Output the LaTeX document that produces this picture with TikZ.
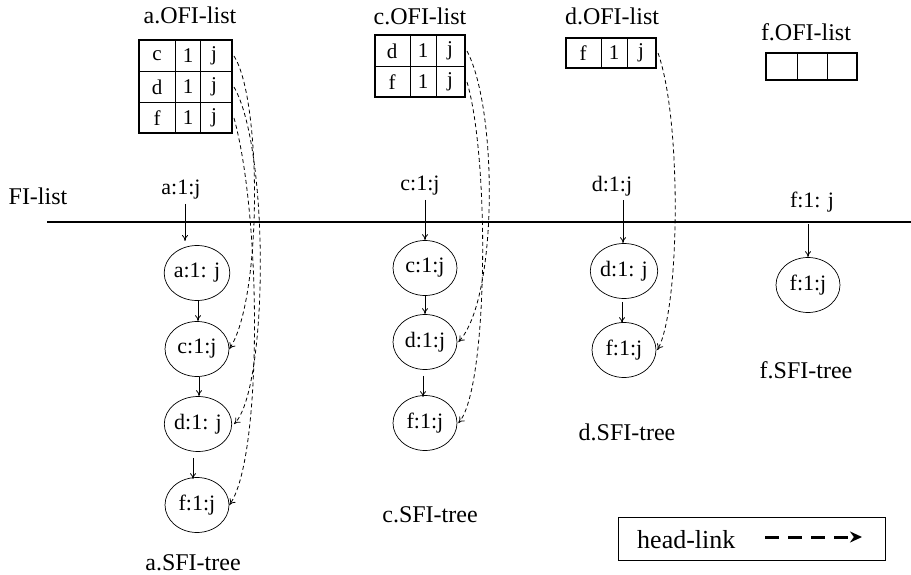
\documentclass[tikz,border=0pt]{standalone}
\usepackage{fontspec}
\setmainfont{Liberation Serif}
\usetikzlibrary{shapes.geometric,arrows.meta}
\begin{document}
\begin{tikzpicture}[x=1pt,y=-1pt,
  title/.style={font=\fontsize{24}{26}\selectfont, inner sep=0pt},
  lbl/.style={font=\fontsize{22}{24}\selectfont, inner sep=0pt},
  cell/.style={font=\fontsize{21}{23}\selectfont, inner sep=0pt},
  sfi/.style={ellipse, draw, line width=0.7pt, minimum width=64pt, minimum height=55pt,
              inner sep=0pt, font=\fontsize{22}{24}\selectfont},
  tree/.style={-{To[length=6pt,width=6pt]}, line width=0.8pt},
  hlink/.style={dashed, dash pattern=on 4pt off 3pt, line width=0.8pt,
                -{To[length=6pt,width=7pt]}},
  grid/.style={line width=0.6pt},
  frame/.style={line width=2pt}]
\useasboundingbox (0,0) rectangle (911,575);

% ---------- OFI tables ----------
% a.OFI-list
\node[title] (aofi) at (190,15) {a.OFI-list};
\draw[grid] (139,71) -- (232,71) (139,102) -- (232,102)
            (175,40) -- (175,133) (200,40) -- (200,133);
\draw[frame] (139,40) rectangle (232,133);
\node[cell] (ac1) at (157,56) {c};  \node[cell] at (188,56) {1}; \node[cell] (aj1) at (214,56) {j};
\node[cell] (ac2) at (157,87) {d};  \node[cell] at (188,87) {1}; \node[cell] (aj2) at (214,87) {j};
\node[cell] (ac3) at (157,118) {f}; \node[cell] at (188,118) {1}; \node[cell] (aj3) at (214,118) {j};
\coordinate (ar1) at (234,56);
\coordinate (ar2) at (234,87);
\coordinate (ar3) at (234,118);

% c.OFI-list
\node[title] (cofi) at (420,16) {c.OFI-list};
\draw[grid] (375,66) -- (465,66) (410,35) -- (410,97) (436,35) -- (436,97);
\draw[frame] (375,35) rectangle (465,97);
\node[cell] at (392,51) {d}; \node[cell] at (423,51) {1}; \node[cell] at (450,51) {j};
\node[cell] at (392,82) {f}; \node[cell] at (423,82) {1}; \node[cell] at (450,82) {j};
\coordinate (cr1) at (467,51);
\coordinate (cr2) at (467,82);

% d.OFI-list
\node[title] (dofi) at (612,16) {d.OFI-list};
\draw[grid] (601,38) -- (601,68) (627,38) -- (627,68);
\draw[frame] (566,38) rectangle (656,68);
\node[cell] at (583,53) {f}; \node[cell] at (614,53) {1}; \node[cell] at (641,53) {j};
\coordinate (dr1) at (658,53);

% f.OFI-list (empty)
\node[title] (fofi) at (806,32) {f.OFI-list};
\draw[grid] (797,53) -- (797,80) (827,53) -- (827,80);
\draw[frame] (766,53) rectangle (857,80);

% ---------- FI-list ----------
\node[title] (fil) at (38,196) {FI-list};
\coordinate (fiL) at (47,222);
\coordinate (fiR) at (911,222);
\draw[line width=1.6pt] (fiL) -- (fiR);

\node[lbl] (la) at (181,190) {a:1:j};
\node[lbl] (lc) at (420,186) {c:1:j};
\node[lbl] (ld) at (612,186) {d:1:j};
\node[lbl] (lf) at (812,202) {f:1: j};

% ---------- SFI trees ----------
% a
\node[sfi] (a1) at (197,273) {a:1: j};
\node[sfi] (a2) at (197,349) {c:1:j};
\node[sfi] (a3) at (198,424) {d:1: j};
\node[sfi] (a4) at (197,505) {f:1:j};
\node[title] (at) at (193,563) {a.SFI-tree};
\draw[tree] (la.south -| 185,0) ++(0,4) -- (185,241);
\draw[tree] (a1.south -| 198,0) -- (a2.north -| 198,0);
\draw[tree] (a2.south -| 199,0) -- (a3.north -| 199,0);
\draw[tree] (a3.south -| 193,0) ++(0,6) -- ([yshift=-2pt]a4.north -| 193,0);

% c
\node[sfi] (c1) at (425,268) {c:1:j};
\node[sfi] (c2) at (425,342) {d:1:j};
\node[sfi] (c3) at (425,423) {f:1:j};
\node[title] (ct) at (430,515) {c.SFI-tree};
\draw[tree] (lc.south -| 425,0) ++(0,4) -- (c1.north);
\draw[tree] (c1.south) -- (c2.north);
\draw[tree] (c2.south -| 423,0) ++(0,6) -- ([yshift=-2pt]c3.north -| 423,0);

% d
\node[sfi] (d1) at (624,271) {d:1: j};
\node[sfi] (d2) at (624,350) {f:1:j};
\node[title] (dt) at (627,432) {d.SFI-tree};
\draw[tree] (ld.south -| 623,0) ++(0,4) -- (d1.north -| 623,0);
\draw[tree] (d1.south -| 622,0) ++(0,3) -- ([yshift=-1pt]d2.north -| 622,0);

% f
\node[sfi] (f1) at (808,285) {f:1:j};
\node[title] (ft) at (806,370) {f.SFI-tree};
\draw[tree] (808,224) -- (f1.north);

% ---------- head-links ----------
\draw[hlink] (ar1) .. controls (262,100) and (262,300) .. (a2.east);
\draw[hlink] (ar2) .. controls (270,150) and (268,390) .. ([xshift=2pt]a3.east);
\draw[hlink] (ar3) .. controls (262,220) and (262,460) .. (a4.east);
\draw[hlink] (cr1) .. controls (498,110) and (498,300) .. ([xshift=1pt]c2.east);
\draw[hlink] (cr2) .. controls (490,160) and (488,390) .. ([xshift=1pt]c3.east);
\draw[hlink] (dr1) .. controls (682,120) and (680,310) .. ([xshift=1pt]d2.east);

% ---------- legend ----------
\node[draw, line width=0.8pt, minimum width=267pt, minimum height=43pt, inner sep=0pt]
  (leg) at (751.5,538.5) {};
\node[anchor=west, inner sep=0pt, font=\fontsize{26}{28}\selectfont] (legtxt) at (637,540) {head-link};
\coordinate (lgA) at (765,537);
\coordinate (lgB) at (862,537);
\draw[line width=3pt, dash pattern=on 14pt off 9pt,
      -{Stealth[length=12pt,width=11pt]}] (lgA) -- (lgB);
\end{tikzpicture}
\end{document}
